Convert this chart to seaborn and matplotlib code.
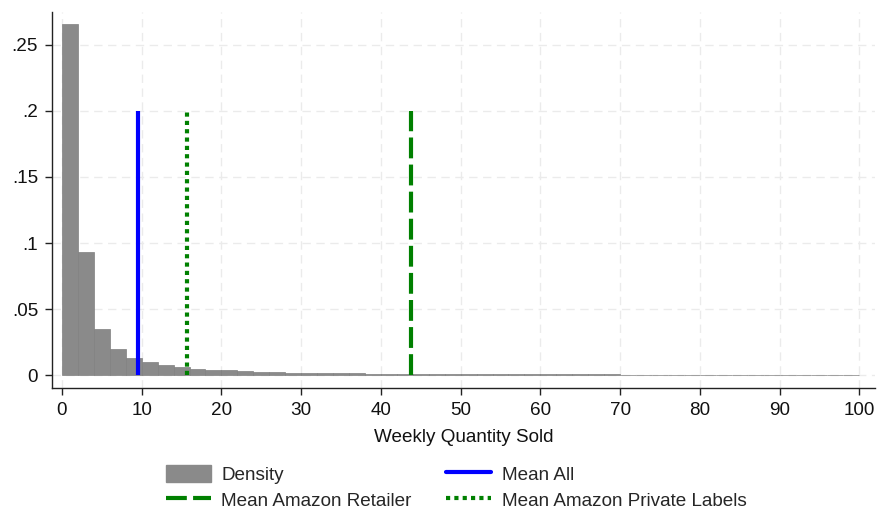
import numpy as np
import pandas as pd
import matplotlib
matplotlib.use("Agg")
import matplotlib.pyplot as plt
import seaborn as sns
from matplotlib.patches import Patch
from matplotlib.lines import Line2D

# Histogram of weekly quantity sold: bins of width 2 from 0 to 100, density per bin
bin_edges = list(range(0, 102, 2))
density = [
    0.266, 0.093, 0.035, 0.0197, 0.0131, 0.0101, 0.0080, 0.0065, 0.0050, 0.0042,
    0.0035, 0.0030, 0.0026, 0.0022, 0.0019, 0.0017, 0.0015, 0.0014, 0.0013, 0.0012,
    0.0011, 0.0010, 0.0009, 0.0009, 0.0008, 0.0008, 0.0007, 0.0007, 0.0006, 0.0006,
    0.0006, 0.0005, 0.0005, 0.0005, 0.0005, 0.0004, 0.0004, 0.0004, 0.0004, 0.0004,
    0.0003, 0.0003, 0.0003, 0.0003, 0.0003, 0.0003, 0.0003, 0.0003, 0.0003, 0.0003,
]

# Group means
mean_all = 9.5
mean_retailer = 43.8
mean_private = 15.7
mean_line_top = 0.2

x_ticks = list(range(0, 101, 10))
y_ticks = [0, 0.05, 0.1, 0.15, 0.2, 0.25]
y_tick_labels = ["0", ".05", ".1", ".15", ".2", ".25"]

FS = 13.6

sns.set_theme(style="white")
plt.rcParams["font.family"] = ["Liberation Sans", "DejaVu Sans"]

fig = plt.figure(figsize=(8.77, 5.14), dpi=100)
ax = fig.add_axes([0.0593, 0.245, 0.9387, 0.732])

centers = [(a + b) / 2 for a, b in zip(bin_edges[:-1], bin_edges[1:])]
df = pd.DataFrame({"qty": centers, "density": density})
sns.histplot(data=df, x="qty", weights="density", bins=bin_edges, stat="count",
             color="#8a8a8a", edgecolor="#808080", linewidth=0.5, alpha=1.0, ax=ax,
             zorder=2)

green = "#008000"
ax.vlines(mean_all, 0, mean_line_top, color="#0000ff", linewidth=3, zorder=3)
ax.vlines(mean_retailer, 0, mean_line_top, color=green, linewidth=3,
          linestyles=(0, (5, 1.5)), zorder=3)
ax.vlines(mean_private, 0, mean_line_top, color=green, linewidth=3,
          linestyles=(0, (1, 1)), zorder=3)

ax.set_xlim(-1.25, 102)
ax.set_ylim(-0.0098, 0.275)
ax.set_xticks(x_ticks)
ax.set_yticks(y_ticks)
ax.set_yticklabels(y_tick_labels)
ax.tick_params(axis="both", which="major", labelsize=FS, length=5, width=1,
               color="#222222", labelcolor="#111111", direction="out",
               bottom=True, left=True, pad=5)
ax.set_xlabel("Weekly Quantity Sold", fontsize=FS, color="#111111", labelpad=7)
ax.set_ylabel("")

ax.grid(True, axis="both", color="#ebebeb", linestyle=(0, (6, 4)), linewidth=1)
ax.set_axisbelow(True)
for side in ["top", "right"]:
    ax.spines[side].set_visible(False)
for side in ["left", "bottom"]:
    ax.spines[side].set_color("#222222")
    ax.spines[side].set_linewidth(1.0)

handles = [
    Patch(facecolor="#8a8a8a", edgecolor="#8a8a8a"),
    Line2D([0], [0], color=green, linewidth=3, linestyle=(0, (5, 1.5))),
    Line2D([0], [0], color="#0000ff", linewidth=3),
    Line2D([0], [0], color=green, linewidth=3, linestyle=(0, (1, 1))),
]
labels = ["Density", "Mean Amazon Retailer", "Mean All", "Mean Amazon Private Labels"]
fig.legend(handles, labels, ncol=2, loc="lower center", bbox_to_anchor=(0.52, -0.025),
           frameon=False, fontsize=FS, handlelength=2.4, handleheight=1.05,
           columnspacing=1.8, labelspacing=0.35, handletextpad=0.55)

fig.savefig("out.png", dpi=100)
